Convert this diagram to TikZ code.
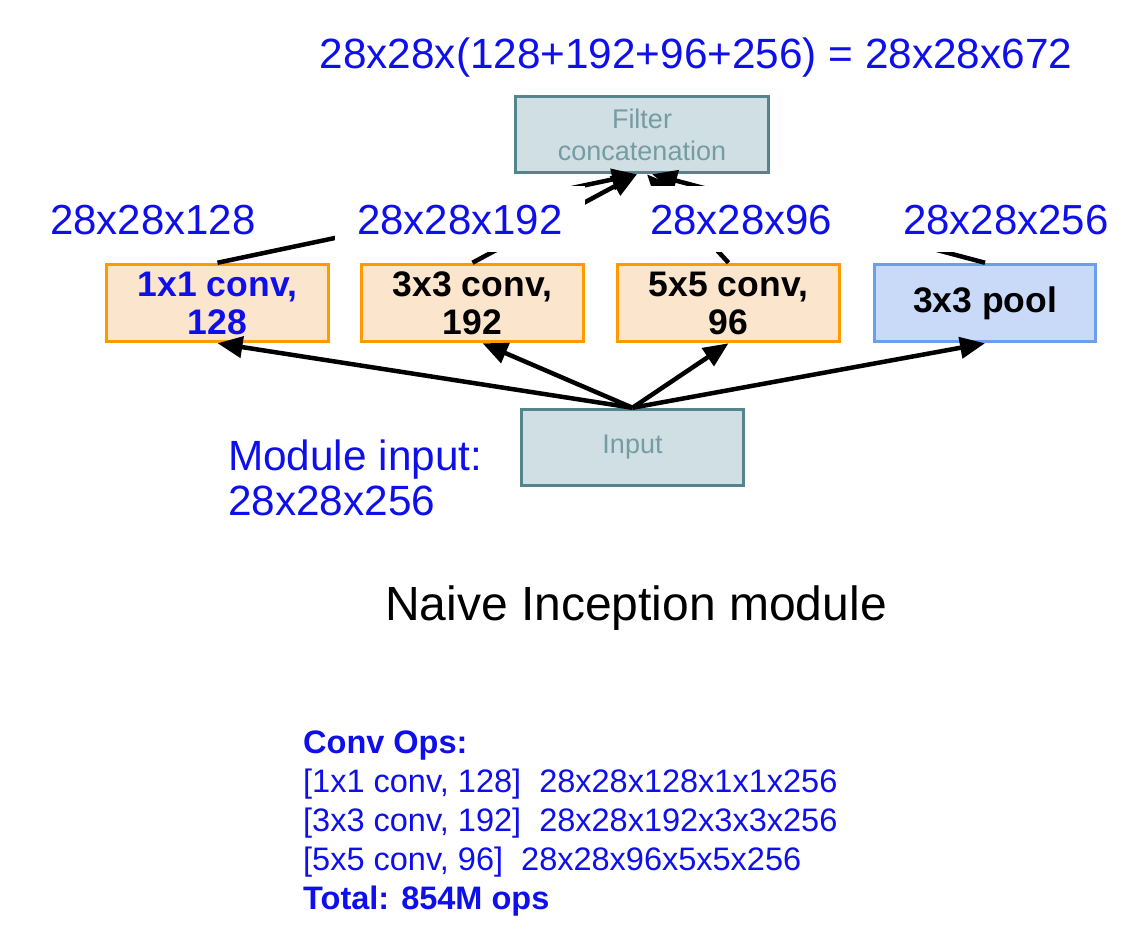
\documentclass[tikz,border=0pt]{standalone}
\usepackage{fontspec}
\setmainfont{Liberation Sans}
\usetikzlibrary{arrows.meta,calc}
\definecolor{lblue}{RGB}{15,15,235}
\definecolor{cfill}{RGB}{208,223,227}
\definecolor{cdraw}{RGB}{86,132,140}
\definecolor{ctext}{RGB}{118,156,163}
\definecolor{ofill}{RGB}{252,229,205}
\definecolor{odraw}{RGB}{255,153,0}
\definecolor{bfill}{RGB}{201,218,248}
\definecolor{bdraw}{RGB}{109,158,235}
\begin{document}
\begin{tikzpicture}[x=1pt,y=-1pt,
  graybox/.style={draw=cdraw,fill=cfill,line width=3.5pt,minimum width=253pt,minimum height=76pt,
    text=ctext,align=center,font=\fontsize{27}{32}\selectfont,inner sep=0pt},
  convbox/.style={draw=odraw,fill=ofill,line width=3.5pt,minimum width=222pt,minimum height=77pt,
    align=center,font=\bfseries\fontsize{35.5}{38}\selectfont,inner sep=0pt},
  poolbox/.style={draw=bdraw,fill=bfill,line width=3.5pt,minimum width=221pt,minimum height=77pt,
    align=center,font=\bfseries\fontsize{35.5}{38}\selectfont,inner sep=0pt},
  dimlabel/.style={fill=white,text=lblue,font=\fontsize{42}{48}\selectfont,anchor=west,align=left,
    inner xsep=22pt,inner ysep=0pt,text height=30pt,text depth=0pt,minimum height=66pt},
  arr/.style={line width=4.5pt,-{Triangle[length=25pt,width=21pt]}},
  bluetxt/.style={text=lblue,inner sep=0pt},
  opstxt/.style={text=lblue,inner sep=0pt,anchor=base west,font=\fontsize{32.5}{39}\selectfont}
]
\useasboundingbox (0,0) rectangle (1140,938);

% title
\node[bluetxt,anchor=base,font=\fontsize{42.3}{48}\selectfont] (title) at (696,68) {28x28x(128+192+96+256) = 28x28x672};

% concatenation box
\node[graybox] (concat) at (642,134.5) {Filter\\concatenation};

% branch boxes
\node[convbox,text=lblue] (b1) at (217.5,303) {1x1 conv,\\128};
\node[convbox] (b2) at (472.5,303) {3x3 conv,\\192};
\node[convbox] (b3) at (728.5,303) {5x5 conv,\\96};
\node[poolbox] (b4) at (985,303) {3x3 pool};

% input box
\node[graybox,minimum width=222pt,minimum height=76pt] (inp) at (632.5,447.5) {Input};

% arrows to concatenation
\draw[arr] (b1.north) -- ([xshift=-5pt]concat.south);
\draw[arr] (b2.north) -- ([xshift=-5pt]concat.south);
\draw[arr] (b3.north) -- ([xshift=5pt]concat.south);
\draw[arr] (b4.north) -- ([xshift=10pt]concat.south);

% output size labels (white backgrounds hide the middle of the arrows)
\node[dimlabel,inner xsep=2pt,text width=206pt] (l1) at (48,219) {28x28x128};
\node[dimlabel,text width=206pt] (l2) at (335,219) {28x28x192};
\node[dimlabel,text width=230pt] (l3) at (628,219) {28x28x96};
\node[dimlabel,text width=215pt] (l4) at (881,219) {28x28x256};

% arrows from input
\draw[arr] (inp.north) -- (b1.south);
\draw[arr] (inp.north) -- ([xshift=10pt]b2.south);
\draw[arr] (inp.north) -- (b3.south);
\draw[arr] (inp.north) -- (b4.south);

% module input
\node[bluetxt,anchor=base west,font=\fontsize{42.3}{48}\selectfont] (mi1) at (228,470) {Module input:};
\node[bluetxt,anchor=base west,font=\fontsize{42.3}{48}\selectfont] (mi2) at (228,515) {28x28x256};

% caption
\node[inner sep=0pt,anchor=base,font=\fontsize{48}{54}\selectfont] (cap) at (636,620) {Naive Inception module};

% conv ops
\node[opstxt,font=\bfseries\fontsize{32.5}{39}\selectfont] (o0) at (303,753) {Conv Ops:};
\node[opstxt] (o1) at (303,792) {[1x1 conv, 128]~~28x28x128x1x1x256};
\node[opstxt] (o2) at (303,831) {[3x3 conv, 192]~~28x28x192x3x3x256};
\node[opstxt] (o3) at (303,870) {[5x5 conv, 96]~~28x28x96x5x5x256};
\node[opstxt,font=\bfseries\fontsize{32.5}{39}\selectfont] (o4) at (303,909) {Total: 854M ops};
\end{tikzpicture}
\end{document}
